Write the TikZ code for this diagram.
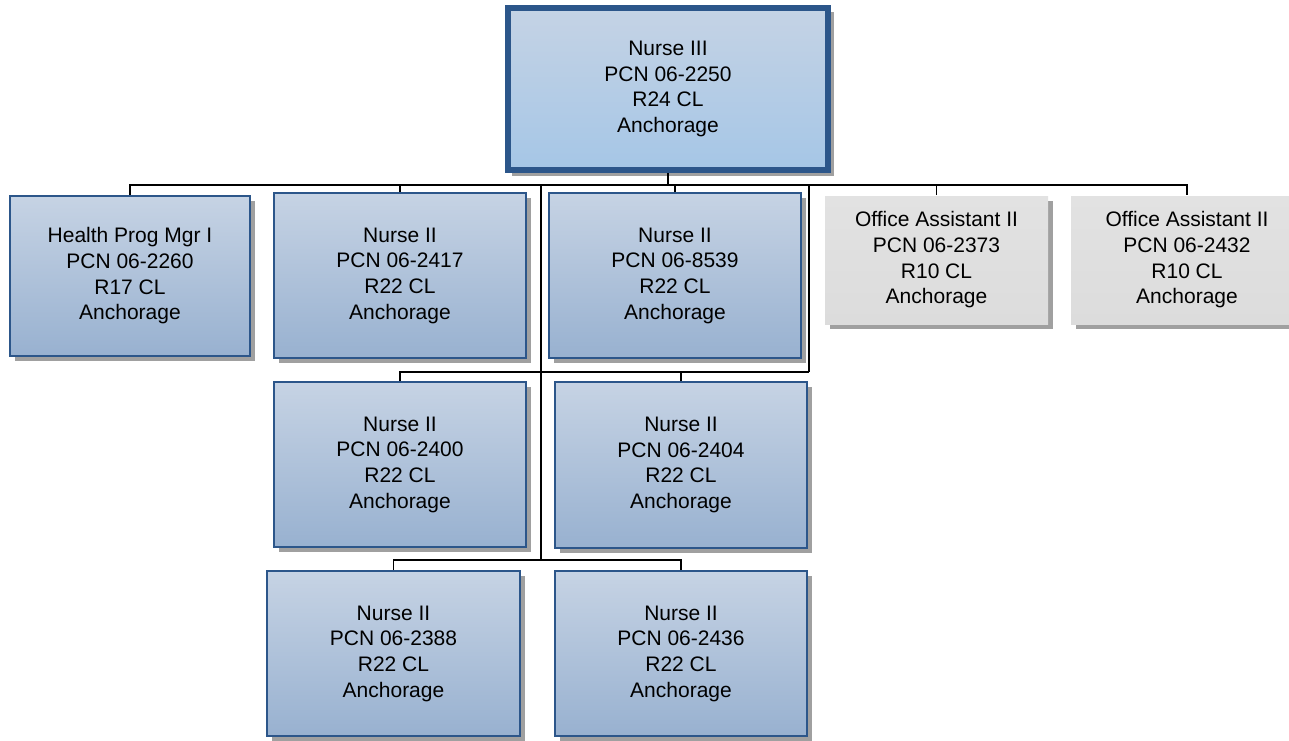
\documentclass[tikz,border=0pt]{standalone}
\usepackage{fontspec}
\setmainfont{Liberation Sans}
\usetikzlibrary{shadows}
\definecolor{bordblue}{RGB}{44,86,138}
\definecolor{boxtop}{RGB}{198,211,228}
\definecolor{boxbot}{RGB}{152,177,208}
\definecolor{toptop}{RGB}{197,211,229}
\definecolor{topbot}{RGB}{165,198,230}
\definecolor{graytop}{RGB}{226,226,226}
\definecolor{graybot}{RGB}{220,220,220}
\definecolor{shadowgray}{RGB}{160,160,160}
\tikzset{
  posbox/.style={draw=bordblue, line width=2pt, top color=boxtop, bottom color=boxbot,
    align=center, inner sep=0pt, text=black,
    font=\fontsize{21}{25.7}\selectfont,
    general shadow={fill=shadowgray, shadow xshift=5pt, shadow yshift=-5pt}},
  headbox/.style={posbox, line width=4pt, top color=toptop, bottom color=topbot},
  grayposbox/.style={posbox, draw=none, top color=graytop, bottom color=graybot},
  link/.style={draw=black, line width=1.6pt}
}
\begin{document}
\begin{tikzpicture}[x=1pt,y=1pt]
\clip (0,0) rectangle (1289,-740);
\fill[white] (0,0) rectangle (1289,-740);
% nodes
\node[headbox, minimum width=322pt, minimum height=164pt] (top) at (668,-89)
  {Nurse III\\PCN 06-2250\\R24 CL\\Anchorage};
\draw[bordblue, line width=1.5pt] ([shift={(5pt,-5pt)}]top.north west) rectangle ([shift={(-5pt,5pt)}]top.south east);
\node[posbox, minimum width=240pt, minimum height=160pt] (hpm) at (130,-276)
  {Health Prog Mgr I\\PCN 06-2260\\R17 CL\\Anchorage};
\node[posbox, minimum width=252pt, minimum height=165pt] (n2417) at (400,-275.5)
  {Nurse II\\PCN 06-2417\\R22 CL\\Anchorage};
\node[posbox, minimum width=252pt, minimum height=165pt] (n8539) at (675,-275.5)
  {Nurse II\\PCN 06-8539\\R22 CL\\Anchorage};
\node[grayposbox, minimum width=223pt, minimum height=128pt] (oa1) at (936.5,-260)
  {Office Assistant II\\PCN 06-2373\\R10 CL\\Anchorage};
\node[grayposbox, minimum width=232pt, minimum height=128pt] (oa2) at (1187,-260)
  {Office Assistant II\\PCN 06-2432\\R10 CL\\Anchorage};
\node[posbox, minimum width=252pt, minimum height=165pt] (n2400) at (400,-464.5)
  {Nurse II\\PCN 06-2400\\R22 CL\\Anchorage};
\node[posbox, minimum width=252pt, minimum height=166pt] (n2404) at (681,-465)
  {Nurse II\\PCN 06-2404\\R22 CL\\Anchorage};
\node[posbox, minimum width=253pt, minimum height=165pt] (n2388) at (393.5,-653.5)
  {Nurse II\\PCN 06-2388\\R22 CL\\Anchorage};
\node[posbox, minimum width=252pt, minimum height=165pt] (n2436) at (681,-653.5)
  {Nurse II\\PCN 06-2436\\R22 CL\\Anchorage};
% bus coordinates
\coordinate (bus1) at (0,-185);
\coordinate (bus2) at (0,-372);
\coordinate (bus3) at (0,-560);
\coordinate (trunkTop) at (541,-185);
\coordinate (trunkBot) at (541,-560);
\coordinate (sideTop) at (809,-185);
\coordinate (sideBot) at (809,-372);
% connectors
\draw[link] (top.south) -- (top.south |- bus1);
\draw[link] (hpm.north) -- (hpm.north |- bus1) -- (oa2.north |- bus1) -- (oa2.north);
\draw[link] (n2417.north) -- (n2417.north |- bus1);
\draw[link] (n8539.north) -- (n8539.north |- bus1);
\draw[link] (oa1.north) -- (oa1.north |- bus1);
\draw[link] (trunkTop) -- (trunkBot);
\draw[link] (sideTop) -- (sideBot);
\draw[link] (n2400.north) -- (n2400.north |- bus2) -- (sideBot);
\draw[link] (n2404.north) -- (n2404.north |- bus2);
\draw[link] (n2388.north) -- (n2388.north |- bus3) -- (n2436.north |- bus3) -- (n2436.north);
\end{tikzpicture}
\end{document}
